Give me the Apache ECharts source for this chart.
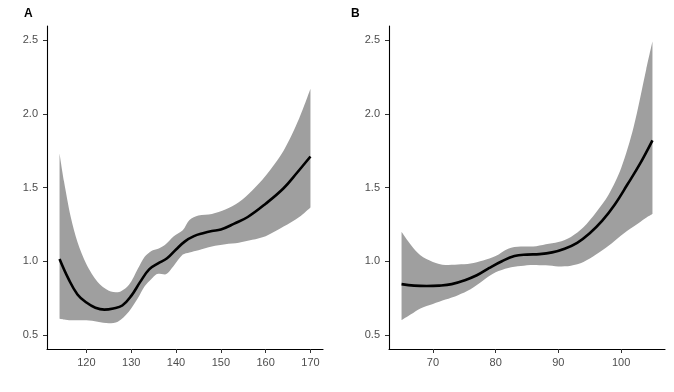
<!DOCTYPE html>
<html>
<head>
<meta charset="utf-8">
<script src="https://cdn.jsdelivr.net/npm/echarts@6/dist/echarts.min.js"></script>
<style>
html,body{margin:0;padding:0;background:#fff;}
#chart{width:674px;height:392px;}
</style>
</head>
<body>
<div id="chart"></div>
<script>
// Panel A
var bandXA = [114, 115, 116.5, 118, 120, 122.5, 125, 127, 129.5, 131.5, 133, 134.5, 136, 137.5, 139.5, 141.5, 143, 145, 148, 151, 154, 157, 160, 164, 167.5, 170];
var upperA = [1.73, 1.54, 1.30, 1.13, 0.98, 0.86, 0.80, 0.79, 0.84, 0.95, 1.03, 1.07, 1.085, 1.11, 1.17, 1.21, 1.28, 1.31, 1.32, 1.35, 1.40, 1.48, 1.58, 1.75, 1.97, 2.17];
var lowerA = [0.61, 0.605, 0.60, 0.60, 0.60, 0.59, 0.58, 0.59, 0.66, 0.75, 0.83, 0.88, 0.915, 0.91, 0.97, 1.045, 1.06, 1.075, 1.10, 1.115, 1.125, 1.145, 1.17, 1.235, 1.30, 1.365];
var curveXA = [114, 116, 118, 120, 122, 124, 126, 128, 130, 132, 134, 136, 138, 140, 142, 144, 146, 148, 150, 153, 156, 160, 164, 167, 170];
var curveA = [1.015, 0.88, 0.775, 0.72, 0.685, 0.672, 0.68, 0.70, 0.765, 0.86, 0.945, 0.985, 1.02, 1.08, 1.135, 1.17, 1.19, 1.205, 1.215, 1.255, 1.30, 1.39, 1.495, 1.60, 1.71];
var xTicksA = [120, 130, 140, 150, 160, 170];

// Panel B
var bandXB = [65, 66.5, 68, 70, 72, 74, 76, 78, 80, 82, 84, 86, 88, 90, 92, 94, 96, 98, 100, 102, 104, 105];
var upperB = [1.20, 1.11, 1.04, 0.995, 0.975, 0.978, 0.985, 1.005, 1.035, 1.085, 1.10, 1.10, 1.115, 1.13, 1.165, 1.23, 1.33, 1.45, 1.63, 1.91, 2.30, 2.49];
var lowerB = [0.60, 0.64, 0.68, 0.71, 0.74, 0.77, 0.81, 0.87, 0.925, 0.955, 0.968, 0.975, 0.972, 0.965, 0.97, 0.995, 1.045, 1.105, 1.175, 1.235, 1.295, 1.32];
var curveXB = [65, 67, 69, 71, 73, 75, 77, 79, 81, 83, 85, 87, 89, 91, 93, 95, 97, 99, 101, 103, 105];
var curveB = [0.845, 0.835, 0.832, 0.835, 0.845, 0.87, 0.905, 0.955, 1.00, 1.035, 1.045, 1.048, 1.06, 1.085, 1.125, 1.19, 1.275, 1.385, 1.52, 1.66, 1.82];
var xTicksB = [70, 80, 90, 100];

var yTicks = [0.5, 1.0, 1.5, 2.0, 2.5];
var panelLabels = ['A', 'B'];

// rows are [y, x] so that stacking happens on the y value
function rowsYX(xs, ys) { return xs.map(function (x, i) { return [ys[i], x]; }); }
function diffsYX(xs, up, lo) { return xs.map(function (x, i) { return [up[i] - lo[i], x]; }); }
function pairs(xs, ys) { return xs.map(function (x, i) { return [x, ys[i]]; }); }

var FONT = 'Liberation Sans, Arial, sans-serif';
var axisLineStyle = { show: true, onZero: false, lineStyle: { color: '#000', width: 1.1 } };
var tickStyle = { show: true, length: 4, lineStyle: { color: '#333', width: 1 } };
var labelStyle = { color: '#4d4d4d', fontSize: 11, fontFamily: FONT };

function xAxis(idx, min, max, ticks) {
  return {
    type: 'value', gridIndex: idx, min: min, max: max,
    axisLine: axisLineStyle,
    axisTick: Object.assign({ customValues: ticks }, tickStyle),
    axisLabel: Object.assign({ customValues: ticks, margin: 8 }, labelStyle),
    splitLine: { show: false }
  };
}
function yAxis(idx) {
  return {
    type: 'value', gridIndex: idx, min: 0.405, max: 2.595,
    axisLine: axisLineStyle,
    axisTick: Object.assign({ customValues: yTicks }, tickStyle),
    axisLabel: Object.assign({ customValues: yTicks, margin: 9, formatter: function (v) { return v.toFixed(1); } }, labelStyle),
    splitLine: { show: false }
  };
}

function bandSeries(idx, xs, up, lo, name) {
  return [
    {
      type: 'line', xAxisIndex: idx, yAxisIndex: idx, stack: name, smooth: 0.3,
      encode: { x: 1, y: 0 },
      symbol: 'none', silent: true, lineStyle: { width: 0, opacity: 0 },
      data: rowsYX(xs, lo)
    },
    {
      type: 'line', xAxisIndex: idx, yAxisIndex: idx, stack: name, smooth: 0.3,
      encode: { x: 1, y: 0 },
      symbol: 'none', silent: true, lineStyle: { width: 0, opacity: 0 },
      areaStyle: { color: '#9f9f9f', opacity: 1 },
      data: diffsYX(xs, up, lo)
    }
  ];
}
function curveSeries(idx, xs, ys) {
  return {
    type: 'line', xAxisIndex: idx, yAxisIndex: idx, smooth: 0.4, symbol: 'none', z: 5,
    lineStyle: { color: '#000', width: 2.6 },
    data: pairs(xs, ys)
  };
}

var chart = echarts.init(document.getElementById('chart'), null, { renderer: 'canvas' });
chart.setOption({
  animation: false,
  backgroundColor: '#fff',
  title: [
    { text: panelLabels[0], left: 19, top: 3, textStyle: { fontSize: 12, fontWeight: 'bold', color: '#000', fontFamily: FONT } },
    { text: panelLabels[1], left: 346, top: 3, textStyle: { fontSize: 12, fontWeight: 'bold', color: '#000', fontFamily: FONT } }
  ],
  grid: [
    { left: 47, right: 351, top: 26, bottom: 43 },
    { left: 389, right: 9, top: 26, bottom: 43 }
  ],
  xAxis: [xAxis(0, 111.2, 172.8, xTicksA), xAxis(1, 63, 107, xTicksB)],
  yAxis: [yAxis(0), yAxis(1)],
  series: [].concat(
    bandSeries(0, bandXA, upperA, lowerA, 'bandA'),
    [curveSeries(0, curveXA, curveA)],
    bandSeries(1, bandXB, upperB, lowerB, 'bandB'),
    [curveSeries(1, curveXB, curveB)]
  )
});
</script>
</body>
</html>
